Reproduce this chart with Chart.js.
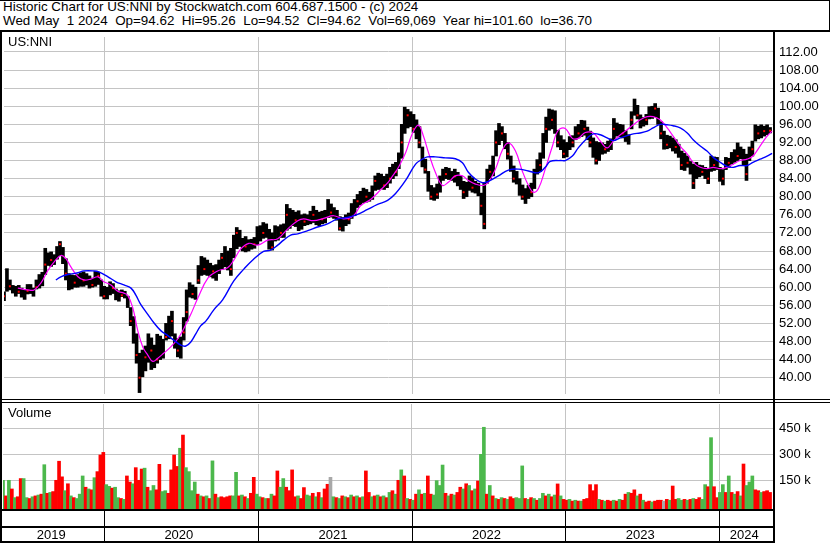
<!DOCTYPE html>
<html>
<head>
<meta charset="utf-8">
<script src="https://cdn.jsdelivr.net/npm/chart.js@4/dist/chart.umd.min.js"></script>
<style>
  body { margin: 0; background: #fff; }
  #wrap { position: relative; width: 830px; height: 543px; overflow: hidden; background: #fff;
          font-family: "Liberation Sans", Arial, sans-serif; color: #000; }
  .hdr { position: absolute; left: 3px; font-size: 13.4px; line-height: 14px; white-space: pre; }
  .lbl { position: absolute; font-size: 13px; line-height: 14px; z-index: 2; }
  .ln { position: absolute; background: #000; z-index: 3; }
  canvas { position: absolute; left: 0; }
</style>
</head>
<body>
<div id="wrap">
  <div class="hdr" style="top:0px">Historic Chart for US:NNI by Stockwatch.com 604.687.1500 - (c) 2024</div>
  <div class="hdr" style="top:14px">Wed May  1 2024  Op=94.62  Hi=95.26  Lo=94.52  Cl=94.62  Vol=69,069  Year hi=101.60  lo=36.70</div>

  <canvas id="priceChart" width="830" height="365" style="top:33px"></canvas>
  <canvas id="volumeChart" width="830" height="139" style="top:404px"></canvas>

  <div class="lbl" style="left:8px;top:35px">US:NNI</div>
  <div class="lbl" style="left:8px;top:406px">Volume</div>

  <div class="ln" style="left:0;top:0;width:830px;height:1px"></div>
  <div class="ln" style="left:829px;top:0;width:1px;height:31px"></div>
  <div class="ln" style="left:0;top:30px;width:830px;height:2px"></div>
  <div class="ln" style="left:0;top:30px;width:2px;height:513px"></div>
  <div class="ln" style="left:773px;top:30px;width:2px;height:513px"></div>
  <div class="ln" style="left:0;top:399px;width:830px;height:1px"></div>
  <div class="ln" style="left:0;top:402px;width:830px;height:1px"></div>
</div>

<script>
// weekly bars, index 0 = first week of May 2019
const weekHigh = [
  59.0, 64.1, 61.6, 60.4, 60.2, 60.4, 59.8, 59.4, 60.6, 60.6,
  59.8, 61.6, 62.8, 63.3, 68.6, 67.6, 67.8, 67.2, 69.0, 70.1,
  68.8, 66.3, 63.0, 62.7, 62.6, 62.8, 63.2, 63.4, 63.0, 62.5,
  62.0, 63.5, 63.3, 61.6, 60.2, 60.0, 61.2, 60.8, 59.6, 59.2,
  59.4, 59.1, 58.0, 55.5, 53.5, 49.7, 45.4, 46.1, 47.0, 49.7,
  48.8, 47.2, 49.6, 49.2, 48.5, 52.0, 53.6, 54.7, 49.7, 48.6,
  49.0, 53.3, 59.4, 61.0, 60.5, 60.0, 64.8, 66.8, 66.5, 66.0,
  65.3, 64.8, 65.0, 66.0, 67.5, 69.0, 68.0, 68.6, 71.5, 73.2,
  72.6, 70.8, 71.2, 70.5, 70.6, 71.0, 73.4, 73.6, 74.3, 74.0,
  72.8, 72.0, 73.6, 73.4, 73.8, 74.0, 78.3, 77.4, 77.0, 76.6,
  76.9, 76.0, 76.2, 76.0, 76.8, 77.9, 77.0, 76.6, 76.8, 77.0,
  79.4, 78.4, 77.6, 77.0, 75.6, 75.4, 76.0, 76.4, 78.5, 79.4,
  80.5, 81.2, 81.9, 81.6, 81.0, 82.4, 84.6, 85.2, 85.0, 84.5,
  85.0, 86.5, 87.2, 87.6, 89.7, 96.0, 99.8, 99.3, 98.8, 98.2,
  97.0, 95.5, 91.0, 88.3, 85.6, 82.5, 82.0, 82.8, 84.6, 86.1,
  86.5, 86.3, 85.6, 86.1, 85.4, 84.6, 83.4, 83.2, 84.6, 84.2,
  83.4, 83.0, 80.8, 83.0, 86.1, 87.0, 89.0, 94.6, 96.2, 95.5,
  94.0, 92.0, 89.0, 86.8, 85.6, 84.0, 82.6, 81.8, 82.5, 83.0,
  86.1, 88.2, 89.7, 94.0, 97.6, 99.4, 99.2, 99.0, 94.7, 93.5,
  92.6, 92.0, 93.3, 93.5, 95.5, 96.0, 96.9, 96.8, 95.4, 94.5,
  93.0, 92.2, 92.0, 91.9, 91.6, 92.3, 92.8, 97.3, 96.3, 96.0,
  95.9, 94.6, 93.7, 98.8, 101.6, 100.2, 98.1, 97.5, 98.2, 99.9,
  100.0, 100.6, 99.6, 96.6, 94.5, 93.6, 93.4, 93.0, 92.6, 91.6,
  90.1, 89.6, 89.0, 87.8, 87.2, 87.6, 87.0, 86.9, 86.5, 86.3,
  89.0, 88.8, 88.7, 86.5, 86.0, 88.7, 88.5, 89.8, 90.4, 91.9,
  91.0, 90.5, 89.4, 91.0, 92.3, 95.9, 95.6, 95.9, 95.6, 95.9,
  95.3
];
const weekLow = [
  57.0, 59.1, 59.4, 58.7, 58.0, 58.6, 57.8, 57.3, 58.5, 58.6,
  58.0, 59.6, 59.8, 60.3, 62.8, 64.8, 64.6, 65.0, 66.2, 67.0,
  65.2, 61.6, 59.4, 59.6, 60.0, 60.0, 60.2, 60.2, 60.5, 59.8,
  60.0, 60.2, 60.6, 58.0, 57.4, 57.4, 58.3, 58.6, 57.2, 56.9,
  57.9, 57.6, 55.5, 51.5, 47.6, 43.2, 36.7, 40.2, 41.5, 43.4,
  41.8, 42.2, 43.2, 44.0, 44.3, 48.3, 48.6, 49.2, 46.5, 44.6,
  44.3, 48.3, 52.5, 57.8, 57.6, 57.3, 60.8, 62.6, 62.8, 62.6,
  62.3, 62.0, 61.5, 63.0, 64.0, 64.5, 63.8, 62.6, 66.5, 68.5,
  69.0, 68.0, 67.8, 68.0, 68.4, 68.6, 69.4, 70.2, 70.8, 71.0,
  68.4, 68.2, 70.2, 70.4, 71.0, 71.0, 72.6, 73.0, 73.6, 73.4,
  72.5, 72.8, 73.6, 73.8, 74.0, 74.3, 73.8, 73.6, 74.0, 74.2,
  75.4, 75.5, 75.2, 74.8, 72.6, 72.4, 73.6, 74.0, 75.2, 75.8,
  77.6, 78.2, 78.7, 78.8, 79.0, 79.4, 81.4, 81.6, 81.8, 81.6,
  82.0, 83.0, 84.0, 84.6, 86.2, 88.5, 94.0, 95.2, 95.5, 94.2,
  92.8, 90.8, 86.6, 85.2, 81.2, 79.4, 79.2, 79.6, 81.0, 83.6,
  84.0, 83.8, 83.6, 83.2, 82.4, 81.6, 79.6, 80.0, 81.4, 81.0,
  80.8, 80.2, 76.0, 72.9, 83.0, 84.0, 84.6, 89.0, 91.5, 92.4,
  90.6, 88.3, 85.6, 83.2, 82.8, 80.3, 79.4, 78.5, 79.6, 80.0,
  81.8, 85.0, 85.6, 88.5, 92.0, 94.7, 95.0, 94.0, 91.0, 90.4,
  88.6, 88.8, 90.4, 91.0, 92.6, 93.0, 93.3, 93.6, 92.6, 91.0,
  88.7, 87.2, 88.0, 89.4, 89.6, 90.0, 90.4, 92.6, 93.4, 93.2,
  93.0, 92.2, 91.6, 95.0, 98.0, 97.2, 95.2, 95.6, 95.9, 97.2,
  97.3, 97.7, 96.0, 92.8, 90.5, 90.6, 90.8, 90.1, 89.6, 88.7,
  86.0, 85.8, 86.5, 85.0, 81.8, 84.0, 84.4, 84.7, 84.0, 82.9,
  85.6, 85.8, 86.0, 83.4, 82.6, 86.0, 86.5, 87.2, 87.6, 88.0,
  88.4, 86.9, 83.6, 88.0, 89.0, 92.3, 92.8, 93.0, 93.4, 93.7,
  94.1
];

// red close ticks on the bars
const redTickWeek = [
  0, 2, 5, 8, 11, 14, 16, 19, 21, 24, 27, 30, 32, 34, 37, 40, 43, 45, 46, 48,
  50, 52, 55, 57, 59, 61, 62, 64, 66, 68, 71, 74, 77, 79, 82, 85, 88, 91, 94, 96,
  99, 102, 105, 108, 111, 114, 117, 120, 123, 126, 129, 131, 133, 135, 137, 139, 141, 143, 145, 147,
  150, 153, 156, 159, 162, 163, 165, 167, 169, 171, 173, 176, 179, 182, 184, 186, 188, 190, 193, 195,
  197, 199, 201, 204, 207, 210, 213, 215, 218, 221, 223, 225, 228, 230, 232, 234, 237, 239, 241, 244,
  246, 249, 252, 254, 256, 258, 260
];
const redTickPrice = [
  58.0, 60.2, 59.0, 59.2, 60.0, 65.0, 66.0, 69.5, 63.0, 61.0, 61.5, 60.5, 62.5, 58.0, 59.8, 58.2, 52.5, 45.0, 40.0, 44.5,
  46.0, 44.0, 49.0, 52.5, 46.0, 50.0, 54.5, 58.5, 61.5, 64.0, 63.5, 66.5, 64.0, 72.0, 69.0, 69.5, 72.0, 68.8, 72.0, 76.0,
  74.8, 74.5, 76.0, 75.0, 76.5, 73.0, 75.0, 79.0, 80.0, 83.5, 82.5, 84.0, 85.5, 92.0, 98.0, 95.0, 92.0, 86.0, 80.0, 80.5,
  85.0, 84.5, 81.0, 82.0, 78.0, 74.0, 85.5, 92.0, 94.0, 89.5, 84.0, 80.0, 81.0, 87.0, 95.0, 97.0, 92.0, 89.5, 92.0, 94.0,
  95.0, 92.0, 88.0, 90.5, 95.0, 94.0, 97.0, 98.0, 97.0, 99.5, 94.0, 91.5, 91.0, 87.0, 87.5, 83.0, 85.5, 84.0, 87.0, 84.0,
  87.5, 89.0, 85.0, 90.5, 94.0, 94.5, 94.6
];

// moving averages (position in weeks, value)
const fastMaWeek = [
  4.7, 8.1, 10.2, 12.5, 14.9, 16.9, 19.3, 21.0, 22.7, 25.1, 27.1, 29.5, 31.9, 33.9, 36.3, 38.6, 40.7, 42.0, 43.7, 45.4,
  47.1, 48.8, 50.5, 52.2, 54.2, 56.6, 59.0, 61.0, 63.4, 65.8, 69.2, 72.5, 75.9, 78.0, 80.3, 83.1, 86.1, 89.5, 92.9, 96.3,
  99.7, 101.7, 105.1, 108.5, 111.9, 115.3, 118.6, 121.0, 124.4, 127.8, 130.5, 131.9, 133.9, 136.3, 138.6, 140.7, 142.4, 144.1, 146.4, 148.8,
  150.8, 153.2, 155.6, 157.6, 160.0, 162.7, 164.4, 166.8, 169.2, 171.2, 173.6, 175.9, 178.0, 179.7, 181.4, 183.7, 186.1, 188.1, 190.5, 192.9,
  194.9, 197.3, 200.0, 202.4, 204.7, 206.8, 209.2, 211.5, 213.6, 215.9, 218.3, 220.3, 222.7, 225.1, 227.1, 229.5, 231.9, 233.9, 236.3, 238.6,
  240.7, 243.1, 245.4, 247.5, 249.8, 252.2, 254.2, 256.6, 259.0, 260.7
];
const fastMa = [
  59.8, 59.4, 59.4, 60.9, 63.7, 65.5, 67.0, 66.3, 64.5, 62.3, 61.6, 61.8, 62.3, 61.2, 60.5, 59.1, 58.7, 58.2, 55.5, 50.4,
  46.8, 45.0, 43.6, 44.3, 45.4, 46.8, 48.6, 50.8, 54.0, 57.6, 62.0, 63.6, 64.3, 66.0, 68.4, 69.7, 69.3, 70.4, 70.7, 72.9,
  74.7, 75.1, 74.7, 75.2, 75.8, 75.1, 75.8, 78.0, 79.4, 81.5, 83.3, 84.6, 86.5, 89.7, 94.0, 95.8, 93.3, 89.7, 85.4, 82.5,
  83.2, 84.6, 84.6, 83.6, 82.8, 82.5, 83.2, 86.1, 90.4, 91.9, 90.1, 85.7, 82.5, 81.0, 81.8, 86.1, 91.1, 94.7, 95.1, 92.9,
  92.9, 94.2, 94.1, 92.3, 90.8, 92.3, 93.7, 94.8, 95.9, 97.0, 97.7, 97.7, 97.0, 95.2, 93.4, 91.2, 89.4, 87.6, 86.5, 86.2,
  86.5, 86.2, 86.5, 87.2, 88.0, 88.3, 89.0, 91.2, 93.4, 94.5
];
const slowMaWeek = [
  17.6, 19.3, 21.7, 25.1, 27.1, 30.5, 32.2, 35.3, 38.0, 40.7, 43.1, 44.7, 46.4, 48.8, 50.8, 53.2, 55.6, 57.6, 60.0, 61.7,
  63.4, 65.1, 66.8, 68.5, 71.2, 74.2, 78.0, 81.4, 84.7, 88.1, 90.5, 92.9, 94.9, 97.3, 99.7, 103.1, 106.4, 109.8, 113.2, 116.6,
  120.0, 123.4, 126.8, 130.2, 132.9, 136.3, 139.7, 142.0, 143.7, 146.4, 149.8, 153.2, 155.6, 157.6, 160.0, 162.4, 164.4, 167.8, 171.2, 174.6,
  178.0, 181.4, 183.7, 185.4, 188.8, 190.5, 192.9, 194.9, 198.0, 200.0, 202.4, 204.7, 206.8, 209.2, 211.5, 213.6, 215.9, 218.3, 220.3, 222.7,
  225.1, 227.1, 229.5, 231.9, 233.9, 236.3, 238.6, 240.7, 243.1, 245.4, 247.5, 249.8, 252.2, 254.2, 256.6, 259.0, 260.7
];
const slowMa = [
  61.6, 62.3, 62.8, 63.2, 63.6, 63.6, 63.4, 62.3, 61.2, 60.5, 59.8, 58.3, 56.2, 54.0, 52.2, 50.4, 49.3, 48.3, 47.2, 47.0,
  47.9, 49.7, 51.5, 52.5, 55.0, 57.2, 61.4, 64.0, 66.2, 67.9, 68.2, 69.3, 70.4, 71.5, 71.8, 72.5, 73.3, 74.0, 75.1, 75.4,
  76.1, 77.2, 78.3, 79.2, 80.7, 83.6, 87.2, 88.3, 88.8, 88.8, 88.6, 88.4, 87.5, 85.4, 83.9, 83.1, 83.4, 84.6, 85.9, 86.1,
  85.7, 85.3, 86.5, 87.8, 88.0, 88.0, 89.0, 90.8, 93.0, 93.9, 93.7, 93.0, 92.4, 93.0, 93.5, 93.9, 94.1, 94.5, 95.2, 96.0,
  95.9, 95.7, 95.2, 94.1, 92.6, 91.2, 90.1, 88.7, 87.6, 86.7, 86.5, 86.9, 86.9, 87.6, 88.3, 89.0, 89.6
];

// weekly volume in thousands, and direction (1 up, -1 down, 0 unchanged)
const volume = [
  150, 60, 150, 100, 50, 55, 160, 160, 50, 45, 55, 60, 65, 70, 240, 75, 80, 85, 150, 260,
  170, 90, 130, 60, 50, 45, 70, 175, 110, 100, 95, 165, 200, 296, 311, 125, 115, 105, 110, 50,
  45, 40, 175, 140, 130, 223, 150, 215, 220, 110, 90, 120, 95, 242, 85, 90, 75, 210, 296, 230,
  335, 411, 223, 200, 90, 140, 70, 60, 55, 60, 45, 262, 70, 50, 55, 50, 55, 60, 60, 196,
  60, 65, 55, 45, 75, 167, 70, 55, 50, 45, 45, 70, 60, 204, 110, 160, 110, 90, 210, 55,
  60, 45, 108, 65, 60, 75, 55, 80, 50, 100, 127, 167, 55, 50, 45, 60, 55, 50, 65, 55,
  60, 50, 55, 204, 80, 55, 60, 65, 55, 60, 50, 80, 90, 70, 150, 210, 175, 45, 40, 35,
  70, 95, 70, 75, 175, 70, 65, 148, 120, 238, 75, 60, 70, 65, 80, 110, 100, 130, 120, 90,
  100, 146, 300, 456, 70, 120, 60, 45, 40, 50, 45, 40, 55, 45, 50, 45, 233, 45, 40, 50,
  45, 35, 45, 75, 60, 70, 55, 65, 129, 60, 40, 35, 40, 30, 35, 30, 30, 40, 45, 125,
  90, 125, 40, 35, 30, 35, 30, 35, 30, 40, 35, 70, 80, 75, 95, 60, 70, 35, 25, 30,
  25, 30, 35, 35, 30, 40, 35, 117, 40, 45, 35, 40, 35, 40, 45, 40, 50, 40, 125, 113,
  396, 113, 50, 80, 125, 80, 175, 80, 70, 85, 60, 244, 120, 140, 175, 95, 90, 80, 85, 90,
  80
];
const volumeDir = [
  1, -1, 1, -1, 1, -1, -1, 1, 1, -1, 1, -1, 1, -1, 1, -1, 1, -1, -1, -1,
  -1, 1, -1, 1, -1, 1, 1, 1, -1, 1, -1, 1, -1, -1, -1, 1, 1, -1, 1, 1,
  -1, 1, -1, -1, 1, -1, -1, -1, 1, -1, 1, 1, -1, -1, 1, 1, -1, -1, -1, -1,
  1, -1, 1, 1, 1, 1, -1, 1, -1, 1, -1, 1, -1, 1, -1, -1, -1, -1, 1, 1,
  -1, 1, -1, 1, -1, -1, 1, 1, -1, 1, -1, 1, -1, -1, 1, 1, -1, -1, -1, -1,
  1, -1, -1, 1, 1, -1, 1, -1, 1, -1, -1, 0, 1, -1, 1, -1, 1, -1, 1, -1,
  1, -1, 1, -1, -1, 1, -1, 1, -1, 1, -1, 1, -1, 1, -1, 1, -1, 1, -1, 1,
  -1, 1, -1, 1, -1, -1, 1, 1, 1, 1, -1, 1, -1, 1, -1, -1, 1, -1, 1, -1,
  1, -1, 1, 1, -1, 1, -1, 1, -1, 1, -1, 1, -1, -1, 1, 1, 1, -1, 1, -1,
  1, -1, 1, 1, -1, 1, -1, 1, -1, 1, -1, -1, 1, -1, 1, -1, 1, -1, -1, -1,
  -1, -1, 1, -1, 1, -1, -1, 1, -1, 1, -1, -1, 1, -1, -1, 1, -1, 1, -1, -1,
  1, -1, -1, -1, 0, -1, 1, -1, -1, 1, 1, -1, 1, -1, 1, -1, -1, 1, 1, -1,
  1, -1, -1, 1, 1, -1, 1, -1, 1, -1, 1, -1, 1, 1, 1, -1, -1, 1, -1, -1,
  -1
];

// axis ticks
const priceTicks = [40, 44, 48, 52, 56, 60, 64, 68, 72, 76, 80, 84, 88, 92, 96, 100, 104, 108, 112];
const volumeTicks = [150, 300, 450];
const yearStarts = [34.07, 86.5, 138.5, 190.6, 242.8];
const yearLabels = ['2019', '2020', '2021', '2022', '2023', '2024'];

const FONT = '"Liberation Sans", Arial, sans-serif';
const GRID = '#c4c4c4';
const X_MAX = 261;

function noPad(s) { s.paddingTop = 0; s.paddingBottom = 0; s.paddingLeft = 0; s.paddingRight = 0; }

const xAxis = (h) => ({
  type: 'linear', min: 0, max: X_MAX, offset: false,
  grid: { color: GRID, drawTicks: false, lineWidth: 1, offset: false },
  border: { display: false },
  ticks: { display: false },
  afterBuildTicks: (s) => { s.ticks = yearStarts.map((v) => ({ value: v })); },
  afterFit: (s) => { s.height = h; noPad(s); }
});

new Chart(document.getElementById('priceChart'), {
  type: 'bar',
  data: {
    datasets: [
      {
        type: 'line',
        data: fastMaWeek.map((w, k) => ({ x: w, y: fastMa[k] })),
        borderColor: '#ff00ff', borderWidth: 1.2, pointRadius: 0, tension: 0.4, order: 1
      },
      {
        type: 'line',
        data: slowMaWeek.map((w, k) => ({ x: w, y: slowMa[k] })),
        borderColor: '#0000ff', borderWidth: 1.4, pointRadius: 0, tension: 0.4, order: 0
      },
      {
        type: 'scatter',
        data: redTickWeek.map((w, k) => ({ x: w, y: redTickPrice[k] })),
        pointStyle: 'rect', pointRadius: 1.4, backgroundColor: '#ff0000', borderWidth: 0, order: 2
      },
      {
        type: 'bar',
        data: weekHigh.map((h, i) => ({ x: i, y: [weekLow[i], h] })),
        backgroundColor: '#000', barThickness: 3, order: 3
      }
    ]
  },
  options: {
    responsive: false, animation: false, devicePixelRatio: 1, events: [],
    layout: { padding: { left: 3, right: 0, top: 0, bottom: 0 } },
    plugins: { legend: { display: false }, tooltip: { enabled: false } },
    scales: {
      x: xAxis(0),
      y: {
        position: 'right', min: 36.39, max: 115.31,
        grid: { color: GRID, drawTicks: false },
        border: { display: false },
        ticks: { color: '#000', font: { family: FONT, size: 13 }, padding: 6, callback: (v) => Number(v).toFixed(2) },
        afterBuildTicks: (s) => { s.ticks = priceTicks.map((v) => ({ value: v })); },
        afterFit: (s) => { s.width = 57; noPad(s); }
      }
    }
  }
});

const yearRow = {
  id: 'yearRow',
  afterDraw(chart) {
    const { ctx, chartArea, scales } = chart;
    const x = scales.x;
    const right = chartArea.right + 2;
    const b = chartArea.bottom;
    ctx.save();
    ctx.fillStyle = '#000';
    ctx.fillRect(0, b, right, 2);
    ctx.fillRect(0, b + 17, right, 2);
    ctx.fillRect(0, b + 32, right, 2);
    yearStarts.forEach((v) => {
      const px = Math.round(x.getPixelForValue(v));
      ctx.fillRect(px, b + 2, 1, 32);
    });
    const edges = [0, ...yearStarts, X_MAX];
    ctx.font = '13px ' + FONT;
    ctx.textAlign = 'center';
    ctx.textBaseline = 'middle';
    yearLabels.forEach((t, k) => {
      const mid = (x.getPixelForValue(edges[k]) + x.getPixelForValue(edges[k + 1])) / 2 - 2;
      ctx.fillText(t, mid, b + 26);
    });
    ctx.restore();
  }
};

const colorFor = (d) => (d > 0 ? '#4cb84c' : d < 0 ? '#ff0000' : '#a8a8a8');

new Chart(document.getElementById('volumeChart'), {
  type: 'bar',
  data: {
    datasets: [{
      data: volume.map((v, i) => ({ x: i, y: v })),
      backgroundColor: volumeDir.map(colorFor),
      barThickness: 3, base: -15.6
    }]
  },
  options: {
    responsive: false, animation: false, devicePixelRatio: 1, events: [],
    layout: { padding: { left: 3, right: 0, top: 0, bottom: 0 } },
    plugins: { legend: { display: false }, tooltip: { enabled: false } },
    scales: {
      x: xAxis(34),
      y: {
        position: 'right', min: -15.6, max: 590.2,
        grid: { color: GRID, drawTicks: false },
        border: { display: false },
        ticks: { color: '#000', font: { family: FONT, size: 13 }, padding: 6, callback: (v) => v + ' k' },
        afterBuildTicks: (s) => { s.ticks = volumeTicks.map((v) => ({ value: v })); },
        afterFit: (s) => { s.width = 57; noPad(s); }
      }
    }
  },
  plugins: [yearRow]
});
</script>
</body>
</html>
